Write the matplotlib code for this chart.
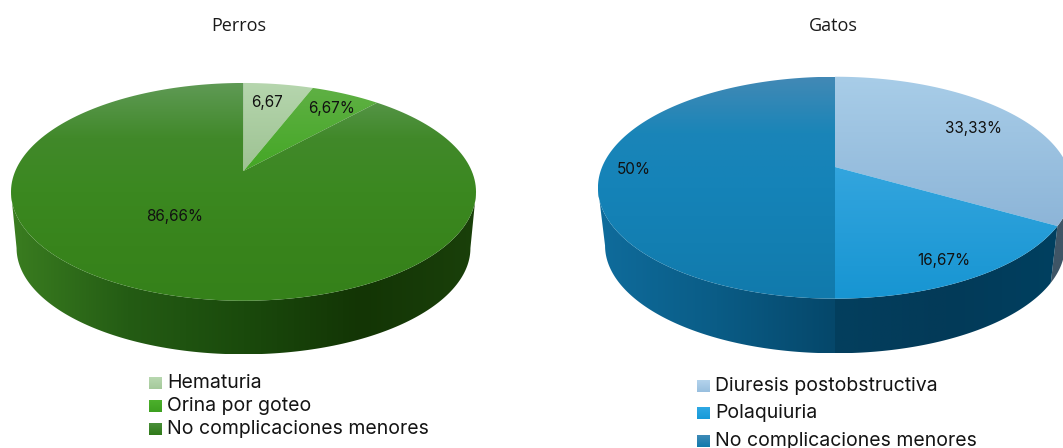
import numpy as np
import matplotlib
matplotlib.use("Agg")
import matplotlib.pyplot as plt
from matplotlib.colors import LinearSegmentedColormap
from matplotlib.patches import Polygon

perros_names = ["Hematuria", "Orina por goteo", "No complicaciones menores"]
perros_shares = [5.83, 5.83, 88.34]
perros_labels = ["6,67", "6,67%", "86,66%"]

gatos_names = ["Diuresis postobstructiva", "Polaquiuria", "No complicaciones menores"]
gatos_shares = [33.33, 16.67, 50.0]
gatos_labels = ["33,33%", "16,67%", "50%"]

perros_top = [["#b6d6ae", "#9dc292"], ["#5fb044", "#44a725"],
              ["#5f9a55", "#41892a", "#3b8820", "#38841c", "#35811a"]]
perros_wall = [["#9dc292", "#9dc292"], ["#44a725", "#44a725"],
               ["#3a7d20", "#245c14", "#1a4a0c", "#133505", "#1a400a"]]
gatos_top = [["#a8cde8", "#8db5d8"], ["#33a5de", "#1795d2"],
             ["#4289b5", "#1a85b8", "#1583b8", "#137fb2", "#117aac"]]
gatos_wall = [["#3f5566", "#3f5566"], ["#033f5e", "#033a58", "#004060"],
              ["#0f6c9c", "#0a5c86", "#05476a"]]

FONT = "Inter"


def disc_point(theta, geo, lower=False):
    # projected point of the disc rim, theta clockwise from 12 o'clock
    scale = geo["s"] if lower else 1.0
    y0 = geo["yb"] if lower else geo["yt"]
    x_d, y_d = np.sin(theta), np.cos(theta)
    w = 1 + geo["k"] * y_d
    return (geo["cx"] + scale * geo["rx"] * x_d / w,
            y0 - scale * geo["ry"] * y_d / w)


def gradient_fill(ax, xs, ys, colors, horizontal=False):
    cmap = LinearSegmentedColormap.from_list("g", colors)
    grad = np.linspace(0, 1, 256)
    grad = grad.reshape(1, -1) if horizontal else grad.reshape(-1, 1)
    patch = Polygon(np.column_stack([xs, ys]), closed=True, fc="none", ec="none")
    ax.add_patch(patch)
    im = ax.imshow(grad, cmap=cmap, aspect="auto", interpolation="bilinear",
                   extent=(min(xs), max(xs), max(ys), min(ys)), vmin=0, vmax=1)
    im.set_clip_path(patch)


def draw_pie(ax, shares, geo, top_colors, wall_colors):
    edges = np.cumsum([0] + list(shares)) / sum(shares) * 2 * np.pi
    front_a = np.pi / 2 + np.arcsin(geo["k"])
    front_b = 2 * np.pi - front_a

    # walls
    for i in range(len(shares)):
        a = max(edges[i], front_a)
        b = min(edges[i + 1], front_b)
        if b <= a:
            continue
        t = np.linspace(a, b, 160)
        xt, yt = disc_point(t, geo)
        xb, yb = disc_point(t[::-1], geo, lower=True)
        gradient_fill(ax, np.r_[xt, xb], np.r_[yt, yb], wall_colors[i], horizontal=True)

    # top face
    for i in range(len(shares)):
        t = np.linspace(edges[i], edges[i + 1], 200)
        xt, yt = disc_point(t, geo)
        gradient_fill(ax, np.r_[geo["cx"], xt], np.r_[geo["yt"], yt], top_colors[i])


def draw_legend(ax, names, colors, x_sq, x_txt, ys, size):
    for name, col, y in zip(names, colors, ys):
        xs = [x_sq, x_sq + 13, x_sq + 13, x_sq]
        yy = [y - 6, y - 6, y + 6, y + 6]
        gradient_fill(ax, xs, yy, col)
        ax.text(x_txt, y, name, fontsize=size, family=FONT, color="#141414",
                ha="left", va="center")


fig = plt.figure(figsize=(10.63, 4.48), dpi=100)
ax = fig.add_axes([0, 0, 1, 1])

perros_geo = dict(cx=243.5, yt=171, yb=227.7, rx=228.2, ry=104.9, k=0.1916, s=0.976)
gatos_geo = dict(cx=835, yt=167, yb=225.6, rx=232.9, ry=107.1, k=0.1864, s=0.97)

draw_pie(ax, perros_shares, perros_geo, perros_top, perros_wall)
draw_pie(ax, gatos_shares, gatos_geo, gatos_top, gatos_wall)

ax.text(239, 26, "Perros", fontsize=13, family="Open Sans", ha="center", va="center", color="#1a1a1a")
ax.text(833, 26, "Gatos", fontsize=13, family="Open Sans", ha="center", va="center", color="#1a1a1a")

for txt, pos in zip(perros_labels, [(267, 102), (332, 108), (175, 217)]):
    ax.text(pos[0], pos[1], txt, fontsize=11, family=FONT, ha="center", va="center", color="#111111")
for txt, pos in zip(gatos_labels, [(973, 129), (944, 261), (634, 169)]):
    ax.text(pos[0], pos[1], txt, fontsize=11, family=FONT, ha="center", va="center", color="#111111")

draw_legend(ax, perros_names, [["#b8d8b0", "#a5c99b"], ["#4cb02c", "#3da020"], ["#4a8f3a", "#2f7a18"]],
            149, 167, [383, 406, 429], 14)
draw_legend(ax, gatos_names, [["#b4d3ec", "#98bfdf"], ["#2fa8e4", "#169ad8"], ["#3f8ab7", "#117aac"]],
            697, 715, [386, 413, 441], 14)

ax.set_xlim(0, 1063)
ax.set_ylim(448, 0)
ax.axis("off")
fig.savefig("out.png", dpi=100, facecolor="white")
plt.close(fig)
